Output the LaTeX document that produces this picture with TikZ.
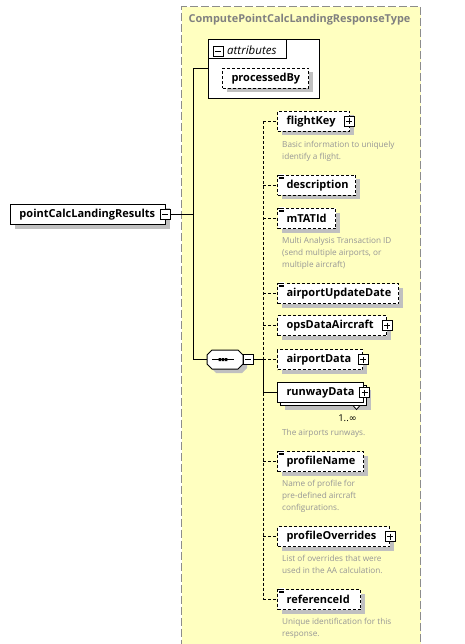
\documentclass[tikz,border=0pt]{standalone}
\usepackage{fontspec}
\setmainfont{Open Sans}
\newfontfamily\symfont{DejaVu Sans}
\usetikzlibrary{shadows,calc}
\definecolor{ybg}{RGB}{255,255,192}
\definecolor{yborder}{RGB}{140,140,140}
\definecolor{shad}{RGB}{192,192,192}
\definecolor{titlegray}{RGB}{128,128,128}
\definecolor{descgray}{RGB}{150,150,150}
\tikzset{
  elbase/.style={draw=black, fill=white, line width=1pt, minimum height=20pt, inner xsep=9pt, inner ysep=0pt, anchor=north west, align=left, font=\fontsize{11}{13}\selectfont\bfseries},
  elshadow/.style={general shadow={fill=shad, draw=none, shadow xshift=4pt, shadow yshift=-4pt}},
  reqel/.style={elbase, elshadow},
  optel/.style={elbase, elshadow, dash pattern=on 3pt off 2pt},
  rwel/.style={elbase,
     general shadow={fill=shad, draw=none, shadow xshift=7pt, shadow yshift=-7pt},
     general shadow={fill=white, draw=black, line width=1pt, shadow xshift=3pt, shadow yshift=-3pt}},
  iconbase/.style={draw=black, fill=white, line width=0.8pt, minimum size=10pt, inner sep=0pt},
  expandicon/.style={iconbase, path picture={\draw[line width=0.8pt] ($(path picture bounding box.west)+(2,0)$) -- ($(path picture bounding box.east)+(-2,0)$) ($(path picture bounding box.north)+(0,2)$) -- ($(path picture bounding box.south)+(0,-2)$);}},
  collapseicon/.style={iconbase, path picture={\draw[line width=0.8pt] ($(path picture bounding box.west)+(2,0)$) -- ($(path picture bounding box.east)+(-2,0)$);}},
  desc/.style={anchor=north west, inner sep=0pt, align=left, text=descgray, font=\fontsize{8.2}{12}\selectfont},
  conn/.style={draw=black, line width=1pt},
  dconn/.style={conn, dash pattern=on 3pt off 2pt},
}
\newcommand\simpleicon[1]{%
  \fill[white] ($(#1.north west)+(1.5,-1.2)$) rectangle ($(#1.north west)+(7.5,4.8)$);
  \draw[line width=0.5pt] ($(#1.north west)+(2,0)$) -- ++(5,0)
     ($(#1.north west)+(2,1.8)$) -- ++(5,0)
     ($(#1.north west)+(2,3.6)$) -- ++(5,0);}
\begin{document}
\begin{tikzpicture}[x=1pt,y=-1pt]
\useasboundingbox (0,0) rectangle (464,644);
\begin{scope}
\clip (0,0) rectangle (464,644);
\node[draw=yborder, fill=ybg, line width=1.2pt, dash pattern=on 8pt off 3pt, minimum width=239pt, minimum height=660pt, anchor=north west, inner sep=0pt] (ctype) at (181,6) {};
\end{scope}
\node[font=\fontsize{10.9}{12}\selectfont\bfseries, text=titlegray] (title) at (299.5,20) {ComputePointCalcLandingResponseType};

% attributes
\node[draw=black, fill=white, line width=1pt, minimum width=111pt, minimum height=59pt, anchor=north west, inner sep=0pt] (attr) at (208,39) {};
\node[draw=black, fill=white, line width=1pt, minimum width=78pt, minimum height=19pt, anchor=north west, inner sep=0pt] (attrtab) at (208,39) {};
\node[collapseicon] (attrmin) at (218,51) {};
\node[anchor=west, inner sep=0pt, font=\fontsize{11.5}{13}\selectfont\itshape] (attrlbl) at (227,50) {attributes};
\node[optel, text width=68pt] (pb) at (222,68) {\mbox{processedBy}};

% root element
\node[reqel, text width=137pt] (pclr) at (10,204) {\mbox{pointCalcLandingResults}};
\node[collapseicon] (pmin) at ($(pclr.east)+(-1,0)$) {};

% sequence compositor
\node[minimum width=36pt, minimum height=19pt, inner sep=0pt] (seq) at (225,359.5) {};
\fill[shad, shift={($(seq.center)+(4,4)$)}] (-18,-4.5) -- (-13,-9.5) -- (13,-9.5) -- (18,-4.5) -- (18,4.5) -- (13,9.5) -- (-13,9.5) -- (-18,4.5) -- cycle;
\draw[fill=white, line width=1pt, shift={(seq.center)}] (-18,-4.5) -- (-13,-9.5) -- (13,-9.5) -- (18,-4.5) -- (18,4.5) -- (13,9.5) -- (-13,9.5) -- (-18,4.5) -- cycle;
\draw[line width=0.9pt, shift={(seq.center)}] (-13,0) -- (9,0);
\fill[shift={(seq.center)}] (-6.5,-1.5) rectangle ++(2.4,3) (-3.3,-1.5) rectangle ++(2.4,3) (-0.1,-1.5) rectangle ++(2.4,3);
\node[collapseicon] (seqmin) at (248,359) {};

% children
\node[optel, text width=54pt] (fk) at (277,111) {\mbox{flightKey}};
\node[expandicon] (fkx) at ($(fk.east)+(-1,0)$) {};
\node[desc] (fkd) at (282,141.5) {Basic information to uniquely\\identify a flight.};

\node[optel, text width=60pt] (dsc) at (277,175) {\mbox{description}};
\simpleicon{dsc}

\node[optel, text width=40pt] (mt) at (277,208) {\mbox{mTATId}};
\simpleicon{mt}
\node[desc] (mtd) at (282,237.5) {Multi Analysis Transaction ID\\(send multiple airports, or\\multiple aircraft)};

\node[optel, text width=103pt] (aud) at (277,283) {\mbox{airportUpdateDate}};
\simpleicon{aud}

\node[optel, text width=91pt] (oda) at (277,315) {\mbox{opsDataAircraft}};
\node[expandicon] (odax) at (oda.east) {};

\node[optel, text width=67pt] (apd) at (277,349) {\mbox{airportData}};
\node[expandicon] (apdx) at (apd.east) {};

\node[rwel, text width=68pt] (rw) at (277,382) {\mbox{runwayData}};
\node[expandicon] (rwx) at ($(rw.east)+(0.5,0)$) {};
\draw[fill=white, line width=0.8pt] ($(rw.south east)+(-11,2.5)$) -- ($(rw.south east)+(-4,2.5)$) -- ($(rw.south east)+(-7.5,6.5)$) -- cycle;
\node[inner sep=0pt, font=\fontsize{9.5}{11}\selectfont] (rwcard) at (347.5,418) {1..{\symfont ∞}};
\node[desc] (rwd) at (282,429.5) {The airports runways.};

\node[optel, text width=68pt] (pn) at (277,451) {\mbox{profileName}};
\simpleicon{pn}
\node[desc] (pnd) at (282,480.5) {Name of profile for\\pre-defined aircraft\\configurations.};

\node[optel, text width=94pt] (po) at (277,526) {\mbox{profileOverrides}};
\node[expandicon] (pox) at (po.east) {};
\node[desc] (pod) at (282,555.5) {List of overrides that were\\used in the AA calculation.};

\node[optel, text width=65pt] (ref) at (277,589) {\mbox{referenceId}};
\simpleicon{ref}
\node[desc] (refd) at (282,618.5) {Unique identification for this\\response.};

% connectors
\coordinate (trunk) at (193,0);
\coordinate (bus) at (263,0);
\draw[conn] (pmin.east) -- (pmin.east -| trunk);
\draw[conn] (attr.west) -| (trunk |- seq.west) -- (seq.west);
\draw[conn] (seqmin.east) -- (seqmin.east -| bus);
\draw[dconn] (fk.west -| bus) -- (seqmin.east -| bus);
\draw[conn] (seqmin.east -| bus) |- (rw.west);
\draw[dconn] (rw.west -| bus) -- (ref.west -| bus);
\foreach \c in {fk,dsc,mt,aud,oda,apd,pn,po,ref}{
  \draw[dconn] (\c.west -| bus) -- (\c.west);
}
\end{tikzpicture}
\end{document}
